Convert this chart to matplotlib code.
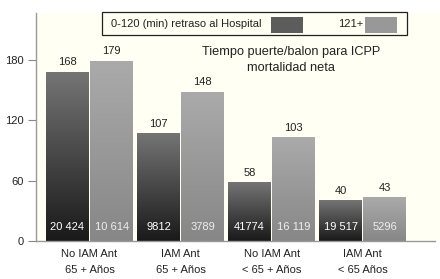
import matplotlib
matplotlib.use("Agg")
import matplotlib.pyplot as plt
import numpy as np
from matplotlib.patches import Rectangle

plt.rcParams['font.family'] = ['Liberation Sans', 'DejaVu Sans']

categories = ["No IAM Ant\n65 + Años", "IAM Ant\n65 + Años", "No IAM Ant\n< 65 + Años", "IAM Ant\n< 65 Años"]
early = [168, 107, 58, 40]
late = [179, 148, 103, 43]
early_n = ["20 424", "9812", "41774", "19 517"]
late_n = ["10 614", "3789", "16 119", "5296"]
yticks = [0, 60, 120, 180]

fig = plt.figure(figsize=(4.4, 2.79), dpi=100)
fig.patch.set_facecolor("white")
ax = fig.add_axes([36/440, 1-241/279, 1-36/440, (241-13)/279])
ax.set_facecolor("#fffff3")

x = np.arange(len(categories))
w = 0.472
off = 0.243
b1 = ax.bar(x - off, early, width=w, color="none", zorder=2)
b2 = ax.bar(x + off, late, width=w, color="none", zorder=2)

def grad(bars, top, bot):
    c1 = np.array(matplotlib.colors.to_rgb(top))
    c0 = np.array(matplotlib.colors.to_rgb(bot))
    t = np.linspace(0, 1, 64)[:, None]
    img = (c0 + (c1 - c0) * t)[:, None, :]
    for r in bars:
        x0, h, wd = r.get_x(), r.get_height(), r.get_width()
        ax.imshow(img, extent=[x0, x0 + wd, 0, h], origin="lower", aspect="auto", zorder=2, interpolation="bilinear")

grad(b1, "#747474", "#1a1a1a")
grad(b2, "#aaaaaa", "#878787")
ax.set_xlim(-0.588, 3.85)
ax.set_ylim(0, 227)

fs = 8
for i in range(len(categories)):
    ax.text(x[i] - off, early[i] + 5, str(early[i]), ha="center", va="bottom", fontsize=fs, color="#222222")
    ax.text(x[i] + off, late[i] + 5, str(late[i]), ha="center", va="bottom", fontsize=fs, color="#222222")
    ax.text(x[i] - off, 14, early_n[i], ha="center", va="center", fontsize=fs, color="white")
    ax.text(x[i] + off, 14, late_n[i], ha="center", va="center", fontsize=fs, color="#eeeeee")

ax.set_xticks(x)
ax.set_xticklabels(categories, fontsize=fs, color="#222222", linespacing=1.65)
ax.tick_params(axis="x", length=0, pad=6)
ax.set_yticks(yticks)
ax.set_yticklabels([str(v) for v in yticks], fontsize=fs, color="#222222")
ax.tick_params(axis="y", length=6, color="#888888", width=0.8, pad=3)
for s in ["top", "right"]:
    ax.spines[s].set_visible(False)
ax.spines["left"].set_color("#999999")
ax.spines["bottom"].set_color("#999999")
ax.spines["left"].set_linewidth(1.0)
ax.spines["bottom"].set_linewidth(1.0)
ax.spines["bottom"].set_bounds(-0.588, 3.8)

# legend box
ax.add_patch(Rectangle((102/440, 1-35/279), 305/440, 23/279, transform=fig.transFigure, fill=False,
                       edgecolor="#222222", linewidth=0.9, clip_on=False, zorder=5))
fig.text(111/440, 1-24/279, "0-120 (min) retraso al Hospital", fontsize=fs, va="center", ha="left", color="#222222")
fig.patches.append(Rectangle((271/440, 1-33/279), 32/440, 16/279, transform=fig.transFigure, facecolor="#5c5c5c", edgecolor="none"))
fig.text(338/440, 1-24/279, "121+", fontsize=fs, va="center", ha="left", color="#222222")
fig.patches.append(Rectangle((365/440, 1-33/279), 32/440, 16/279, transform=fig.transFigure, facecolor="#989898", edgecolor="none"))

fig.text(291/440, 1-60/279, "Tiempo puerte/balon para ICPP\nmortalidad neta", fontsize=9.2, ha="center", va="center",
         color="#222222", linespacing=1.35)

fig.savefig("out.png", dpi=100, facecolor="white")
